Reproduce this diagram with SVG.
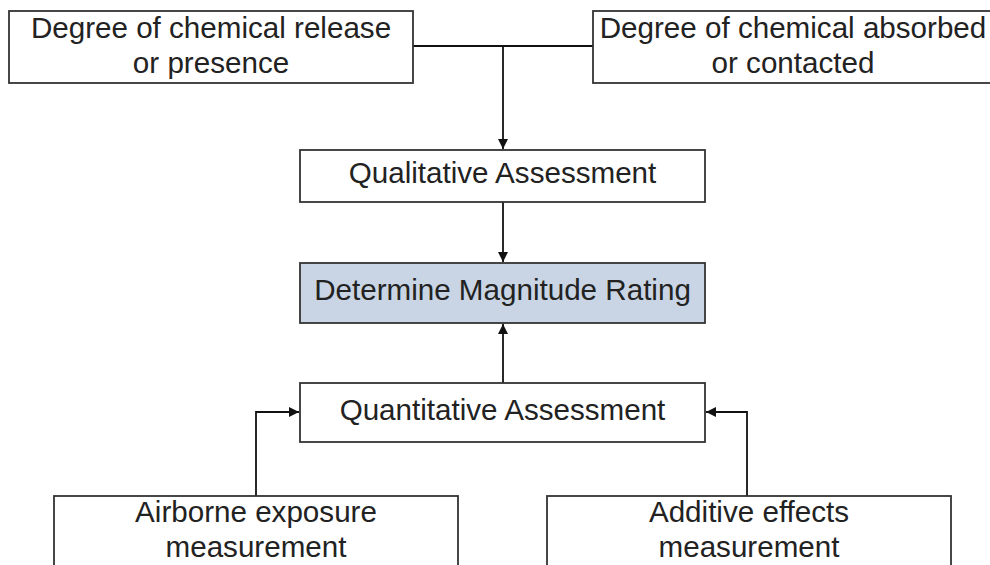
<svg xmlns="http://www.w3.org/2000/svg" width="990" height="565" viewBox="0 0 990 565">
<style>
.box{fill:#ffffff;stroke:#333333;stroke-width:1.8}
.hl{fill:#c9d5e4;stroke:#333333;stroke-width:1.8}
.t{font-family:"Liberation Sans",Arial,sans-serif;font-size:29.6px;fill:#222222;text-anchor:middle}
.c{fill:none;stroke:#111111;stroke-width:1.8}
</style>
<defs>
<marker id="ah" viewBox="0 0 10 10" refX="10" refY="5" markerWidth="10" markerHeight="10" markerUnits="userSpaceOnUse" orient="auto">
<path d="M0,0 L10,5 L0,10 Z" fill="#111111"/>
</marker>
</defs>
<g id="connectors">
<path class="c" d="M413,46 L593,46"/>
<path class="c" d="M503,46 L503,149" marker-end="url(#ah)"/>
<path class="c" d="M503,202 L503,262" marker-end="url(#ah)"/>
<path class="c" d="M503,383 L503,324" marker-end="url(#ah)"/>
<path class="c" d="M256,496 L256,412 L299,412" marker-end="url(#ah)"/>
<path class="c" d="M747,496 L747,412 L706,412" marker-end="url(#ah)"/>
</g>
<g id="release">
<rect class="box" x="9" y="11" width="404" height="72"/>
<text class="t" x="211" y="38">Degree of chemical release</text>
<text class="t" x="211" y="73">or presence</text>
</g>
<g id="absorbed">
<rect class="box" x="593" y="11" width="404" height="72"/>
<text class="t" x="793" y="38">Degree of chemical absorbed</text>
<text class="t" x="793" y="73">or contacted</text>
</g>
<g id="qualitative">
<rect class="box" x="300" y="150" width="405" height="52"/>
<text class="t" x="502.5" y="183">Qualitative Assessment</text>
</g>
<g id="magnitude">
<rect class="hl" x="300" y="263" width="405" height="60"/>
<text class="t" x="502.5" y="300">Determine Magnitude Rating</text>
</g>
<g id="quantitative">
<rect class="box" x="300" y="383" width="405" height="59"/>
<text class="t" x="502.5" y="420">Quantitative Assessment</text>
</g>
<g id="airborne">
<rect class="box" x="54" y="496" width="404" height="90"/>
<text class="t" x="256" y="522">Airborne exposure</text>
<text class="t" x="256" y="557">measurement</text>
</g>
<g id="additive">
<rect class="box" x="547" y="496" width="404" height="90"/>
<text class="t" x="749" y="522">Additive effects</text>
<text class="t" x="749" y="557">measurement</text>
</g>
</svg>
